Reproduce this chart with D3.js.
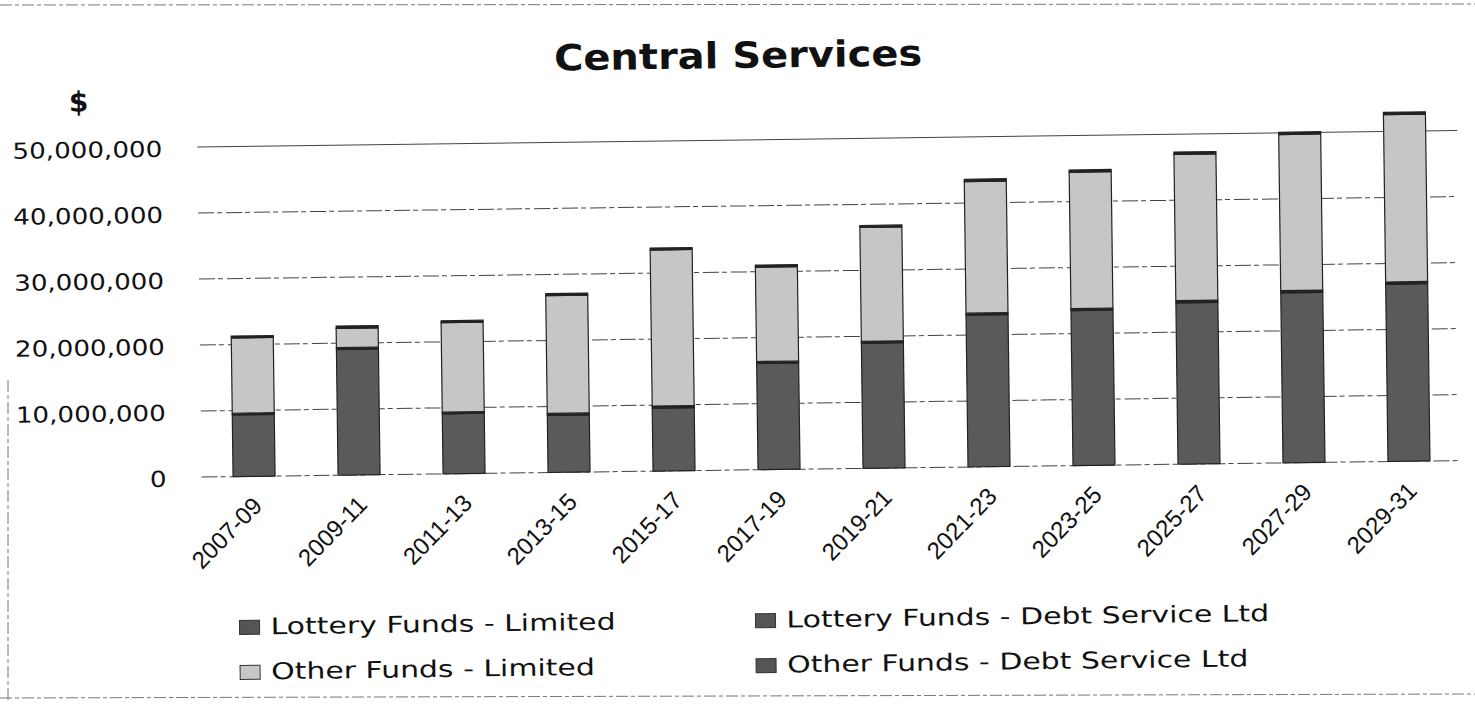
<!DOCTYPE html>
<html>
<head>
<meta charset="utf-8">
<script src="https://cdn.jsdelivr.net/npm/d3@7"></script>
<style>
  body { margin: 0; background: #fff; }
  svg { display: block; }
</style>
</head>
<body>
<svg id="chart" width="1475" height="707"></svg>
<script>
// Biennial budget periods
const periods = ["2007-09", "2009-11", "2011-13", "2013-15", "2015-17", "2017-19",
                 "2019-21", "2021-23", "2023-25", "2025-27", "2027-29", "2029-31"];

// Series values in dollars, stacked bottom to top in this order
const lotteryLimited = [9350000, 19050000, 9100000, 8650000, 9550000, 16100000,
                        18950000, 23000000, 23500000, 24450000, 25750000, 26850000];
const lotteryDebt    = [250000, 300000, 250000, 300000, 300000, 300000,
                        300000, 300000, 300000, 350000, 350000, 350000];
const otherLimited   = [11400000, 2900000, 13550000, 17850000, 23650000, 14300000,
                        17250000, 19950000, 20650000, 22150000, 23650000, 25350000];
const otherDebt      = [300000, 350000, 300000, 300000, 300000, 300000,
                        300000, 350000, 350000, 350000, 350000, 350000];

const seriesNames = ["Lottery Funds - Limited", "Lottery Funds - Debt Service Ltd",
                     "Other Funds - Limited", "Other Funds - Debt Service Ltd"];
const seriesColors = ["#5a5a5a", "#262626", "#c6c6c6", "#222222"];

const yTicks = [0, 10000000, 20000000, 30000000, 40000000, 50000000];

const rows = periods.map((p, i) => ({
  period: p,
  [seriesNames[0]]: lotteryLimited[i],
  [seriesNames[1]]: lotteryDebt[i],
  [seriesNames[2]]: otherLimited[i],
  [seriesNames[3]]: otherDebt[i]
}));

const svg = d3.select("#chart");

// page frame
const frame = svg.append("g").attr("stroke", "#777").attr("stroke-width", 1)
  .attr("stroke-dasharray", "12 3 4 3").attr("fill", "none");
frame.append("line").attr("x1", 0).attr("x2", 1475).attr("y1", 5).attr("y2", 4);
frame.append("line").attr("x1", 8).attr("x2", 8).attr("y1", 380).attr("y2", 700);
frame.append("line").attr("x1", 0).attr("x2", 1475).attr("y1", 698).attr("y2", 694);

// the printed page sits slightly askew
const root = svg.append("g").attr("transform", "rotate(-0.75 738 353)");

const plot = { left: 200, right: 1460, top: 140, bottom: 470 };

const x = d3.scaleBand()
  .domain(periods)
  .range([plot.left, plot.right])
  .paddingInner(0.6)
  .paddingOuter(0.3);

const y = d3.scaleLinear()
  .domain([0, 50000000])
  .range([plot.bottom, plot.top]);

// widen text horizontally by factor k
function stretch(sel, k) {
  sel.each(function () {
    const w = this.getComputedTextLength();
    this.setAttribute("textLength", w * k);
    this.setAttribute("lengthAdjust", "spacingAndGlyphs");
  });
}

// title
root.append("text")
  .attr("x", 742).attr("y", 68)
  .attr("text-anchor", "middle")
  .attr("font-family", "DejaVu Sans")
  .attr("font-weight", "bold")
  .attr("font-size", 36)
  .attr("fill", "#111")
  .text("Central Services")
  .call(stretch, 1.11);

// unit label
root.append("text")
  .attr("x", 82).attr("y", 103)
  .attr("text-anchor", "middle")
  .attr("font-family", "DejaVu Sans")
  .attr("font-weight", "bold")
  .attr("font-size", 28)
  .attr("fill", "#111")
  .text("$");

// gridlines
root.append("g")
  .selectAll("line")
  .data(yTicks)
  .join("line")
  .attr("x1", plot.left).attr("x2", plot.right)
  .attr("y1", d => y(d)).attr("y2", d => y(d))
  .attr("stroke", "#444")
  .attr("stroke-width", 1)
  .attr("stroke-dasharray", d => d === 50000000 ? null : "16 3 5 4");

// y axis labels
const yAxis = root.append("g")
  .attr("transform", `translate(${plot.left},0)`)
  .call(d3.axisLeft(y).tickValues(yTicks).tickSize(0).tickPadding(35)
        .tickFormat(d3.format(",")));
yAxis.select(".domain").remove();
yAxis.selectAll("text")
  .attr("font-family", "DejaVu Sans")
  .attr("font-size", 22)
  .attr("fill", "#111")
  .attr("dy", "0.4em")
  .call(stretch, 1.19);

// stacked bars
const stacked = d3.stack().keys(seriesNames)(rows);
root.append("g")
  .selectAll("g")
  .data(stacked)
  .join("g")
  .attr("fill", (d, i) => seriesColors[i])
  .selectAll("rect")
  .data(d => d)
  .join("rect")
  .attr("x", d => x(d.data.period))
  .attr("width", x.bandwidth())
  .attr("y", d => y(d[1]))
  .attr("height", d => y(d[0]) - y(d[1]))
  .attr("stroke", "#222")
  .attr("stroke-width", 1.2);

// x axis labels
const xAxis = root.append("g")
  .attr("transform", `translate(0,${plot.bottom})`)
  .call(d3.axisBottom(x).tickSize(0).tickPadding(0));
xAxis.select(".domain").remove();
xAxis.selectAll("text")
  .attr("font-family", "Liberation Sans")
  .attr("font-size", 24)
  .attr("fill", "#111")
  .attr("text-anchor", "end")
  .attr("dy", 0)
  .attr("transform", "translate(9,31) rotate(-45)");

// legend
const legendCols = [236, 752];
const legendRows = [628, 673];
const legend = root.append("g")
  .selectAll("g")
  .data(seriesNames)
  .join("g")
  .attr("transform", (d, i) => `translate(${legendCols[i % 2]},${legendRows[Math.floor(i / 2)]})`);
legend.append("rect")
  .attr("x", 0).attr("y", -14)
  .attr("width", 20).attr("height", 14)
  .attr("fill", (d, i) => i === 2 ? seriesColors[2] : "#555")
  .attr("stroke", "#333").attr("stroke-width", 1);
legend.append("text")
  .attr("x", 31).attr("y", 0)
  .attr("font-family", "DejaVu Sans")
  .attr("font-size", 23)
  .attr("fill", "#111")
  .text(d => d)
  .call(stretch, 1.3);
</script>
</body>
</html>
